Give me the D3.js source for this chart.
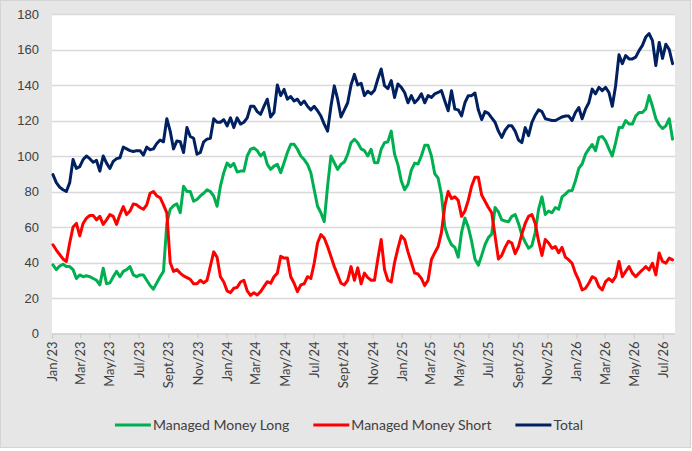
<!DOCTYPE html>
<html>
<head>
<meta charset="utf-8">
<script src="https://cdn.jsdelivr.net/npm/d3@7"></script>
<style>
  html, body { margin: 0; padding: 0; background: #fff; }
  svg { display: block; }
  text { font-family: Lato, "Open Sans", sans-serif; fill: #404040; }
</style>
</head>
<body>
<div id="chart"></div>
<script>
// weekly positioning data, first report of Jan 2023
const firstWeek = '2023-01-03';

const longValues = [
  38.7, 36, 38, 39, 37.7, 37.7, 36, 31, 33, 32,
  32.5, 32, 31, 30, 27.4, 36.8, 28, 28.5, 32, 35,
  32, 35, 36, 37.7, 33, 32, 33, 33, 30, 27,
  25, 28.5, 32, 35, 62, 70, 72, 73, 68, 83,
  80, 80, 74.5, 75.5, 77.5, 79, 81, 80, 77.4, 71.7,
  83, 90.6, 96, 94, 95.8, 91, 91.5, 91.5, 100, 103.8,
  104.5, 103, 100, 102, 95.3, 92.5, 94.3, 95.3, 90.6, 96.2,
  102, 106.6, 106.6, 103.8, 100, 98, 95.3, 90.6, 81, 71.7,
  68, 63, 83, 100, 96.2, 92.5, 95.3, 96.6, 101, 107.5,
  109.4, 107.5, 104, 103, 100, 103.8, 96.2, 96.2, 103.8, 107.5,
  108, 114, 101, 95, 86, 81, 84, 92, 96, 95.5,
  100, 106, 106, 100, 90, 87.5, 78, 60, 54, 50,
  48.5, 43, 57, 65, 60, 52, 42, 38.5, 44, 50,
  54, 56, 71, 68.5, 64, 63.4, 63, 66, 67, 62,
  55.5, 51.5, 48, 49.5, 57, 70, 77, 67, 69, 68,
  71, 70, 77, 78.5, 80.4, 80.5, 86, 93, 95.5, 101,
  104, 106.5, 103, 110.5, 111, 108.5, 104, 100, 107.5, 116,
  116, 120, 118, 118, 122.5, 124.5, 124.5, 126.5, 134, 128,
  121, 117.5, 115.5, 117, 121, 109.5
];

const shortValues = [
  50, 47, 44.5, 42, 40.6, 51, 60, 62, 55, 62,
  65, 66.5, 66.5, 64, 66, 61.5, 64, 67, 66, 61.5,
  67, 71.5, 67, 69, 73, 72.5, 71, 70, 72.5, 79,
  80, 77.5, 76.5, 72.5, 68, 40, 35, 36, 34, 32.5,
  31.5, 30.5, 28, 28, 30, 28.5, 30, 38, 46, 43,
  32, 29, 24, 23, 25.5, 26, 29, 30, 24, 21.5,
  23, 21.7, 23.6, 26.4, 29.2, 28.3, 32, 34, 43.5, 42.5,
  42.5, 32, 28.3, 23.6, 27.4, 28, 32, 31, 39.6, 51,
  55.7, 53.8, 49, 43.4, 37.7, 33, 28.3, 27.4, 30, 37.7,
  30, 37, 28, 34, 31.5, 30, 30, 42, 53, 36,
  30, 29, 40, 48, 55, 53, 46, 40, 34, 33.5,
  31, 27, 30, 41.7, 45.5, 49, 57, 72, 80, 76,
  77, 75, 66, 69, 75, 83, 88, 88, 78, 74.5,
  71, 68, 55, 42, 44, 48.5, 52, 51, 45, 49,
  56, 62, 66, 67, 62, 52, 44, 53, 51, 48,
  49, 45.5, 48.5, 43, 41.5, 39.6, 34, 30, 24.5, 25.5,
  28.3, 32, 31, 26.4, 24.5, 29.2, 31, 29.2, 32, 40.6,
  32, 35, 37.7, 34, 32, 34, 35.8, 37.7, 35.8, 39.6,
  33, 45.3, 40.6, 39.6, 42.5, 41.5
];

const totalValues = [
  89.5, 85, 82.5, 81, 80, 85, 98, 93, 94, 98,
  100, 98.5, 96.5, 97.5, 91.5, 100, 96, 93, 97, 98.5,
  99, 105, 104, 103, 102.5, 103, 103, 100.5, 105, 103.5,
  104, 107, 109, 108, 121, 114, 104, 108.5, 108, 102,
  116, 111, 110, 101, 102, 108, 109.5, 110, 121, 119,
  119, 120.5, 117, 121.5, 116, 121.5, 118, 119, 121.5, 128,
  128, 125, 123.5, 128, 132, 122, 124.5, 140, 134, 137.5,
  132, 133.5, 131, 132, 129, 131, 128, 126, 128, 125.5,
  122.5, 118, 114, 128, 139.5, 132, 122, 126, 130, 140,
  146, 140, 141, 134, 136.5, 135, 137, 143.4, 149, 139.6,
  138, 142.5, 133, 140.6, 138.7, 135.8, 130, 134, 130, 132,
  135, 130, 134, 133, 135, 135.8, 136.8, 131, 125.5, 136.8,
  126.4, 126, 122.6, 130, 134, 134, 135.5, 126, 120.5, 125,
  124, 121.5, 119, 114, 110.5, 114.5, 117, 117, 114, 109,
  107.5, 116, 111.5, 119, 123, 126, 125, 121, 120.5, 120,
  120, 121, 122, 122.5, 122.5, 120, 124.5, 127.3, 121, 126.4,
  130, 137.7, 135, 138.7, 136.8, 138.7, 135.8, 128, 139.6, 157,
  152, 156.6, 154.7, 154.7, 155.7, 159.4, 162.3, 167, 169, 165,
  151, 164, 155, 163, 160, 152
];

const seriesNames = ['Managed Money Long', 'Managed Money Short', 'Total'];
const seriesColors = ['#00B050', '#FF0000', '#002060'];

const yTicks = [0, 20, 40, 60, 80, 100, 120, 140, 160, 180];
const xTickLabels = [
  'Jan/23', 'Mar/23', 'May/23', 'Jul/23', 'Sept/23', 'Nov/23',
  'Jan/24', 'Mar/24', 'May/24', 'Jul/24', 'Sept/24', 'Nov/24',
  'Jan/25', 'Mar/25', 'May/25', 'Jul/25', 'Sept/25', 'Nov/25',
  'Jan/26', 'Mar/26', 'May/26', 'Jul/26'
];

const width = 692;
const height = 451;
const plot = { left: 52, right: 675, top: 14, bottom: 333.5 };

const svg = d3.select('#chart').append('svg')
  .attr('width', width)
  .attr('height', height);

// chart area
svg.append('rect')
  .attr('x', 0.5).attr('y', 0.5)
  .attr('width', width - 2).attr('height', height - 4)
  .attr('fill', '#e6e6e6')
  .attr('stroke', '#d4d4d4');

svg.append('rect')
  .attr('x', plot.left).attr('y', plot.top)
  .attr('width', plot.right - plot.left)
  .attr('height', plot.bottom - plot.top)
  .attr('fill', '#ffffff');

const start = d3.timeParse('%Y-%m-%d')(firstWeek);
const dates = totalValues.map((_, i) => d3.timeDay.offset(start, 7 * i));

// Jan 1 2023 sits on the axis start, Jul 1 2026 on the last label
const x = d3.scaleTime()
  .domain([new Date(2023, 0, 1), new Date(2026, 6, 1)])
  .range([plot.left, 663]);

const y = d3.scaleLinear()
  .domain([0, 180])
  .range([plot.bottom, plot.top]);

// gridlines
svg.append('g')
  .selectAll('line')
  .data(yTicks.filter(d => d > 0))
  .enter().append('line')
  .attr('x1', plot.left).attr('x2', plot.right)
  .attr('y1', d => Math.round(y(d)) + 0.5)
  .attr('y2', d => Math.round(y(d)) + 0.5)
  .attr('stroke', '#d9d9d9')
  .attr('stroke-width', 1.3);

// y axis labels
const yAxis = d3.axisLeft(y)
  .tickValues(yTicks)
  .tickSize(0)
  .tickPadding(13);

svg.append('g')
  .attr('transform', `translate(${plot.left},0)`)
  .call(yAxis)
  .call(g => g.select('.domain').remove())
  .call(g => g.selectAll('text')
    .style('font-family', '"Liberation Sans", Arial, sans-serif')
    .style('font-size', '13px')
    .attr('fill', '#404040'));

// x axis
const tickDates = d3.timeMonth.every(2).range(new Date(2023, 0, 1), new Date(2026, 7, 1));
const xAxis = d3.axisBottom(x)
  .tickValues(tickDates)
  .tickSize(5)
  .tickFormat((d, i) => xTickLabels[i]);

const gx = svg.append('g')
  .attr('transform', `translate(0,${plot.bottom})`)
  .call(xAxis);

gx.select('.domain')
  .attr('d', `M${plot.left},0.5H${plot.right}`)
  .attr('stroke', '#d0d0d0')
  .attr('stroke-width', 1.3);
gx.selectAll('.tick line').attr('stroke', '#d0d0d0').attr('stroke-width', 1.3);
gx.selectAll('.tick text')
  .style('font-size', '13px')
  .attr('fill', '#404040')
  .attr('text-anchor', 'end')
  .attr('transform', 'rotate(-90)')
  .attr('x', -8)
  .attr('y', 0)
  .attr('dy', '0.35em');

// lines
const line = d3.line()
  .x((d, i) => x(dates[i]))
  .y(d => y(d));

const series = [longValues, shortValues, totalValues];

svg.append('g')
  .selectAll('path')
  .data(series)
  .enter().append('path')
  .attr('d', line)
  .attr('fill', 'none')
  .attr('stroke', (d, i) => seriesColors[i])
  .attr('stroke-width', 3)
  .attr('stroke-linejoin', 'round')
  .attr('stroke-linecap', 'round');

// legend
const legend = svg.append('g').attr('transform', 'translate(0,425)');
const items = legend.selectAll('g')
  .data(seriesNames)
  .enter().append('g');

items.append('line')
  .attr('x1', 0).attr('x2', 36)
  .attr('stroke', (d, i) => seriesColors[i])
  .attr('stroke-width', 3);

items.append('text')
  .attr('x', 38)
  .attr('dy', '0.35em')
  .style('font-size', '14px')
  .text(d => d);

let cursor = 0;
const offsets = [];
items.each(function () {
  offsets.push(cursor);
  const w = this.querySelector('text').getComputedTextLength();
  cursor += 38 + w + 24;
});
const legendWidth = cursor - 24;
const legendLeft = 349 - legendWidth / 2;
items.attr('transform', (d, i) => `translate(${legendLeft + offsets[i]},0)`);
</script>
</body>
</html>
